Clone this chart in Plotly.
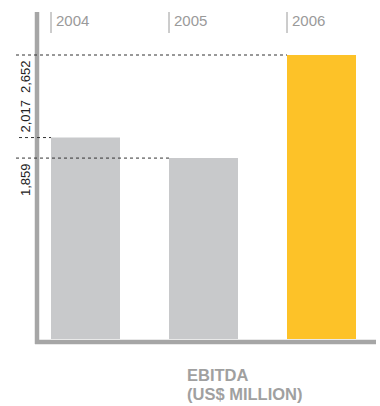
import plotly.graph_objects as go

# EBITDA by year (US$ million)
years = ["2004", "2005", "2006"]
ebitda = [2017, 1859, 2652]
value_labels = ["2,017", "1,859", "2,652"]
bar_colors = ["#c8c9cb", "#c8c9cb", "#fdc228"]

W, H = 380, 406
# horizontal layout: category centres 118 px apart, first at 85.5 px
X0_PX, STEP_PX, BAR_PX = 85.5, 118.0, 69.0
# vertical layout: truncated value axis, baseline at 339 px,
# top value (2,652) at 55 px, 0.13 px per US$ million
BASE_PX, TOP_PX, PX_PER_UNIT = 339.0, 55.0, 0.13
top_val = max(ebitda)

x_range = [-X0_PX / STEP_PX, (W - X0_PX) / STEP_PX]
y_range = [top_val - (BASE_PX - TOP_PX) / PX_PER_UNIT, top_val + TOP_PX / PX_PER_UNIT]
y_domain = [1 - BASE_PX / H, 1]
bar_w = BAR_PX / STEP_PX


def px_x(p):
    return (p - X0_PX) / STEP_PX


def paper_x(p):
    return p / W


def paper_y(p):
    return 1 - p / H


fig = go.Figure(
    go.Bar(
        x=list(range(len(years))),
        y=ebitda,
        width=bar_w,
        marker=dict(color=bar_colors, line=dict(width=0)),
        hoverinfo="skip",
    )
)

shapes = []
annotations = []
axis_col = "#a6a6a6"

# L-shaped axis frame
shapes.append(dict(type="line", xref="paper", yref="paper",
                   x0=paper_x(37), x1=paper_x(37), y0=paper_y(12), y1=paper_y(344),
                   line=dict(color=axis_col, width=4.5)))
shapes.append(dict(type="line", xref="paper", yref="paper",
                   x0=paper_x(35), x1=paper_x(376), y0=paper_y(342), y1=paper_y(342),
                   line=dict(color=axis_col, width=4.5)))

dot_start = {"2004": 19, "2005": 16, "2006": 16}
# value label sits below its guide, except where the next guide is too close
label_above = {"2004": True, "2005": False, "2006": False}
for i, (yr, v, lab) in enumerate(zip(years, ebitda, value_labels)):
    left = i - bar_w / 2
    # dotted guide from the axis to the bar's top-left corner
    shapes.append(dict(type="line", xref="x", yref="y",
                       x0=px_x(dot_start[yr]), x1=left, y0=v, y1=v,
                       line=dict(color="#333333", width=1, dash="dot")))
    # year marker line above each bar
    shapes.append(dict(type="line", xref="x", yref="paper",
                       x0=left, x1=left, y0=paper_y(12), y1=paper_y(33),
                       line=dict(color="#9a9a9a", width=1)))
    annotations.append(dict(x=left, y=paper_y(10), xref="x", yref="paper",
                            text=yr, showarrow=False, xanchor="left", yanchor="top",
                            xshift=3,
                            font=dict(family="Liberation Sans, Arial", size=15,
                                      color="#9a9a9a")))
    # rotated value label next to the guide
    above = label_above[yr]
    annotations.append(dict(x=paper_x(25.5), y=v, xref="paper", yref="y",
                            text=lab, showarrow=False, textangle=-90,
                            xanchor="center",
                            yanchor="bottom" if above else "top",
                            yshift=3 if above else -3,
                            font=dict(family="Liberation Sans, Arial", size=13,
                                      color="#222222")))

title_font = dict(family="Liberation Sans, Arial", size=16.5, color="#a0a0a0")
for text, cy in (("<b>EBITDA</b>", 375), ("<b>(US$ MILLION)</b>", 394)):
    annotations.append(dict(x=paper_x(186), y=paper_y(cy), xref="paper", yref="paper",
                            text=text, showarrow=False, xanchor="left",
                            yanchor="middle", align="left", borderpad=0,
                            font=title_font))

fig.update_layout(
    width=W, height=H,
    margin=dict(l=0, r=0, t=0, b=0),
    paper_bgcolor="white", plot_bgcolor="white",
    showlegend=False,
    xaxis=dict(range=x_range, visible=False, fixedrange=True),
    yaxis=dict(range=y_range, domain=y_domain, visible=False, fixedrange=True),
    shapes=shapes,
    annotations=annotations,
)

fig.write_html("out.html")
